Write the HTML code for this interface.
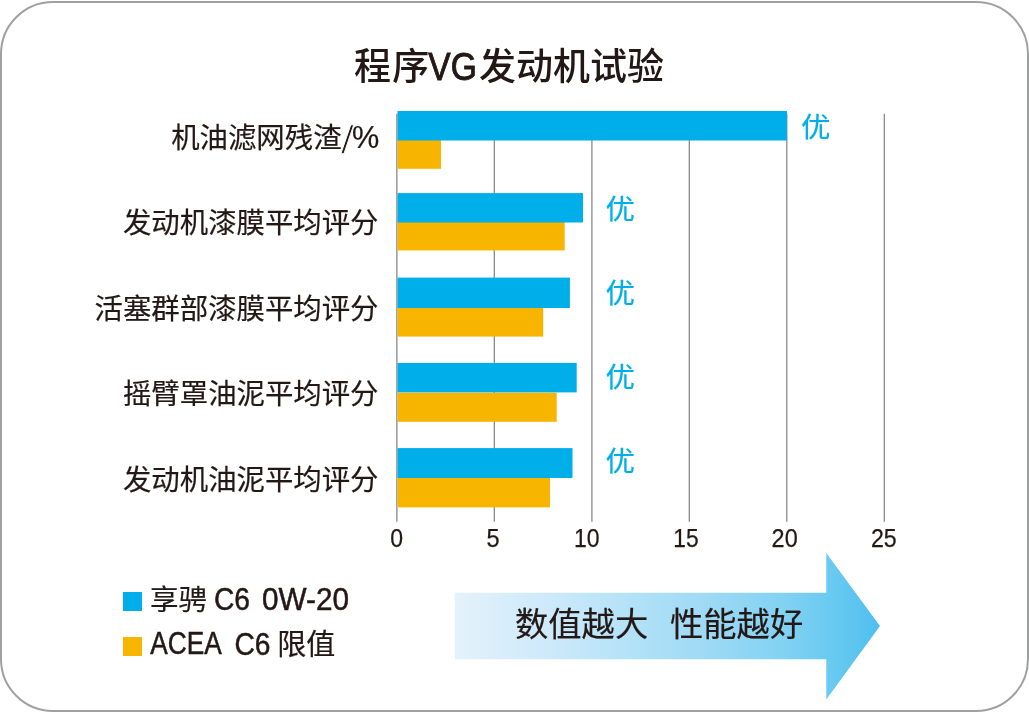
<!DOCTYPE html>
<html lang="zh-CN">
<head>
<meta charset="utf-8">
<title>程序VG发动机试验</title>
<style>
  html, body { margin: 0; padding: 0; background: #ffffff; }
  body { width: 1029px; height: 713px; overflow: hidden; position: relative; }
  svg { position: absolute; left: 0; top: 0; display: block; will-change: transform; }
  text { font-family: "Liberation Sans", "Noto Sans CJK SC", sans-serif; fill: #231815; stroke: #231815; stroke-width: 0.2px; }
  .lat { stroke: #231815; stroke-width: 0.5px; }
  .you { fill: #00aeea; stroke: #00aeea; }
  .ttl { font-weight: 500; stroke-width: 0; }
  .tk text { stroke-width: 0.25px; }
</style>
</head>
<body>
<svg width="1029" height="713" viewBox="0 0 1029 713">
  <defs>
    <linearGradient id="ag" x1="454.75" y1="0" x2="880" y2="0" gradientUnits="userSpaceOnUse">
      <stop offset="0" stop-color="#e4f2fb"/>
      <stop offset="0.25" stop-color="#cae8fa"/>
      <stop offset="0.44" stop-color="#afe1f7"/>
      <stop offset="0.58" stop-color="#a0daf5"/>
      <stop offset="0.77" stop-color="#82d2f3"/>
      <stop offset="0.91" stop-color="#64c8f0"/>
      <stop offset="1" stop-color="#50beee"/>
    </linearGradient>
  </defs>
  <!-- card border -->
  <rect x="1" y="2" width="1027" height="709" rx="52" ry="52" fill="#ffffff" stroke="#9fa0a0" stroke-width="2"/>

  <!-- title -->
  <text class="ttl" x="354" y="80" font-size="37">程<tspan dx="1.3">序</tspan></text>
  <text class="ttl lat" x="428.3" y="79.6" font-size="38" textLength="48.5" lengthAdjust="spacingAndGlyphs" style="stroke-width:0.9px">VG</text>
  <text class="ttl" x="479" y="80" font-size="37">发动机试验</text>

  <!-- grid lines -->
  <g stroke="#808080" stroke-width="1.2">
    <line x1="396.88" y1="113.7" x2="396.88" y2="521.8"/>
    <line x1="494.3" y1="113.7" x2="494.3" y2="521.8"/>
    <line x1="591.9" y1="113.7" x2="591.9" y2="521.8"/>
    <line x1="689.3" y1="113.7" x2="689.3" y2="521.8"/>
    <line x1="786.8" y1="113.7" x2="786.8" y2="521.8"/>
    <line x1="884.3" y1="113.7" x2="884.3" y2="521.8"/>
  </g>

  <!-- bars -->
  <g fill="#f7b500">
    <rect x="397.5" y="140" width="43.5" height="28.8"/>
    <rect x="397.5" y="222" width="167.2" height="28.4"/>
    <rect x="397.5" y="308" width="145.7" height="28.6"/>
    <rect x="397.5" y="392.7" width="159.2" height="29.1"/>
    <rect x="397.5" y="478" width="152.5" height="29.4"/>
  </g>
  <g fill="#00aeea">
    <rect x="397.5" y="111" width="389.5" height="29.5"/>
    <rect x="397.5" y="193.1" width="185.5" height="29.4"/>
    <rect x="397.5" y="277.6" width="172.4" height="30.4"/>
    <rect x="397.5" y="362.9" width="179.2" height="29.5"/>
    <rect x="397.5" y="448.1" width="175.0" height="29.9"/>
  </g>

  <!-- category labels -->
  <text x="171.2" y="147.5" font-size="28.4">机油滤网残渣</text>
  <text transform="translate(340.9 152.6) skewX(-4)" font-size="39" style="stroke:#ffffff;stroke-width:0.9px">/</text>
  <text x="352" y="147.8" font-size="31" textLength="27.3" lengthAdjust="spacingAndGlyphs">%</text>
  <text x="378.5" y="233.4" font-size="28.4" text-anchor="end">发动机漆膜平均评分</text>
  <text x="378.5" y="318.6" font-size="28.4" text-anchor="end">活塞群部漆膜平均评分</text>
  <text x="378.5" y="403.7" font-size="28.4" text-anchor="end">摇臂罩油泥平均评分</text>
  <text x="378.5" y="490.3" font-size="28.4" text-anchor="end">发动机油泥平均评分</text>

  <!-- 优 markers -->
  <text class="you" transform="translate(801.1 137.4) scale(1 0.935)" font-size="29.5">优</text>
  <text class="you" transform="translate(605.4 218.8) scale(1 0.935)" font-size="29.5">优</text>
  <text class="you" transform="translate(605.4 302.8) scale(1 0.935)" font-size="29.5">优</text>
  <text class="you" transform="translate(605.4 386.7) scale(1 0.935)" font-size="29.5">优</text>
  <text class="you" transform="translate(605.4 470.8) scale(1 0.935)" font-size="29.5">优</text>

  <!-- tick labels -->
  <g font-size="25.5" class="tk">
    <text x="390.3" y="547" textLength="12.8" lengthAdjust="spacingAndGlyphs">0</text>
    <text x="486.6" y="547" textLength="13.1" lengthAdjust="spacingAndGlyphs">5</text>
    <text x="573.9" y="547" textLength="25.6" lengthAdjust="spacingAndGlyphs">10</text>
    <text x="673.2" y="547" textLength="25.4" lengthAdjust="spacingAndGlyphs">15</text>
    <text x="771.6" y="547" textLength="26.1" lengthAdjust="spacingAndGlyphs">20</text>
    <text x="870.9" y="547" textLength="25.8" lengthAdjust="spacingAndGlyphs">25</text>
  </g>

  <!-- legend -->
  <rect x="123" y="592" width="19" height="19" fill="#00aeea"/>
  <rect x="123" y="637" width="19" height="19" fill="#f7b500"/>
  <text x="150" y="609.5" font-size="28.5">享骋</text>
  <text class="lat" x="214" y="609.8" font-size="31" textLength="36" lengthAdjust="spacingAndGlyphs">C6</text>
  <text class="lat" x="262" y="609.8" font-size="31" textLength="87" lengthAdjust="spacingAndGlyphs">0W-20</text>
  <text class="lat" x="150.3" y="654.3" font-size="31" textLength="71.5" lengthAdjust="spacingAndGlyphs">ACEA</text>
  <text class="lat" x="234.5" y="654.5" font-size="31" textLength="36" lengthAdjust="spacingAndGlyphs">C6</text>
  <text x="277.2" y="654.6" font-size="29">限值</text>

  <!-- arrow -->
  <polygon points="454.75,592.8 826.3,592.8 826.3,553.1 880,625.9 826.3,699.5 826.3,659.2 454.75,659.2" fill="url(#ag)"/>
  <text x="515" y="635.6" font-size="33.3">数值越大</text>
  <text x="670" y="635.6" font-size="33.3">性能越好</text>
</svg>
</body>
</html>
